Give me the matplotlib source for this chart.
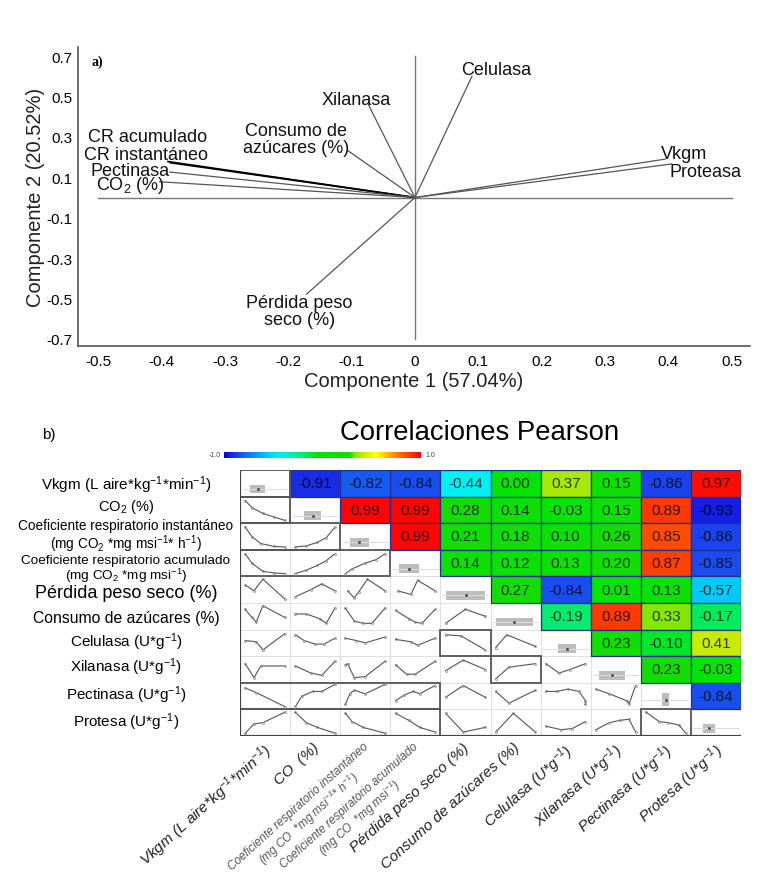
import numpy as np
import matplotlib.pyplot as plt
from matplotlib.colors import LinearSegmentedColormap, Normalize
from matplotlib.patches import Rectangle

plt.rcParams['font.family'] = ['Liberation Sans', 'DejaVu Sans']
plt.rcParams['mathtext.fontset'] = 'custom'
plt.rcParams['mathtext.rm'] = 'Liberation Sans'
plt.rcParams['mathtext.it'] = 'Liberation Sans:italic'
plt.rcParams['mathtext.default'] = 'regular'

# ---- a) PCA loadings ----
pca_names = ['CR acumulado', 'CR instantáneo', 'Pectinasa', 'CO$_2$ (%)',
             'Consumo de\nazúcares (%)', 'Xilanasa', 'Celulasa', 'Vkgm',
             'Proteasa', 'Pérdida peso\nseco (%)']
pc1 = [-0.39, -0.386, -0.387, -0.403, -0.106, -0.074, 0.090, 0.395, 0.405, -0.171]
pc2 = [0.178, 0.172, 0.126, 0.078, 0.232, 0.463, 0.600, 0.190, 0.166, -0.478]
label_x = [-0.422, -0.425, -0.45, -0.45, -0.188, -0.093, 0.128, 0.425, 0.458, -0.182]
label_y = [0.30, 0.215, 0.136, 0.062, 0.29, 0.483, 0.636, 0.22, 0.131, -0.562]

# ---- b) Pearson correlations (upper triangle, row by row) ----
var_rows = ['Vkgm (L aire*kg$^{-1}$*min$^{-1}$)', 'CO$_2$ (%)',
            'Coeficiente respiratorio instantáneo\n(mg CO$_2$ *mg msi$^{-1}$* h$^{-1}$)',
            'Coeficiente respiratorio acumulado\n(mg CO$_2$ *mg msi$^{-1}$)',
            'Pérdida peso seco (%)', 'Consumo de azúcares (%)',
            'Celulasa (U*g$^{-1}$)', 'Xilanasa (U*g$^{-1}$)',
            'Pectinasa (U*g$^{-1}$)', 'Protesa (U*g$^{-1}$)']
row_label_size = [11, 10.5, 9.8, 9.7, 13, 11.3, 11, 11, 11, 11]
row_label_y = [485, 507, 537, 570, 593, 618, 642, 667, 695, 722]
var_cols = ['Vkgm (L aire*kg$^{-1}$*min$^{-1}$)', 'CO  (%)',
            'Coeficiente respiratorio instantáneo\n(mg CO  *mg msi$^{-1}$* h$^{-1}$)',
            'Coeficiente respiratorio acumulado\n(mg CO  *mg msi$^{-1}$)',
            'Pérdida peso seco (%)', 'Consumo de azúcares (%)',
            'Celulasa (U*g$^{-1}$)', 'Xilanasa (U*g$^{-1}$)',
            'Pectinasa (U*g$^{-1}$)', 'Protesa (U*g$^{-1}$)']
upper = [
    [-0.91, -0.82, -0.84, -0.44, 0.00, 0.37, 0.15, -0.86, 0.97],
    [0.99, 0.99, 0.28, 0.14, -0.03, 0.15, 0.89, -0.93],
    [0.99, 0.21, 0.18, 0.10, 0.26, 0.85, -0.86],
    [0.14, 0.12, 0.13, 0.20, 0.87, -0.85],
    [0.27, -0.84, 0.01, 0.13, -0.57],
    [-0.19, 0.89, 0.33, -0.17],
    [0.23, -0.10, 0.41],
    [0.23, -0.03],
    [-0.84],
]

# small scatter-line sketches of the lower triangle (x, y in 0..1), one list per row
lines_row1 = [[(0.05, 0.9), (0.2, 0.6), (0.45, 0.35), (0.7, 0.2), (0.95, 0.05)]]
lines_row2 = [[(0.05, 0.9), (0.2, 0.5), (0.4, 0.2), (0.7, 0.08), (0.95, 0.05)],
              [(0.05, 0.05), (0.3, 0.1), (0.55, 0.25), (0.75, 0.45), (0.95, 0.9)]]
lines_row3 = [[(0.05, 0.9), (0.2, 0.5), (0.45, 0.15), (0.7, 0.08), (0.95, 0.05)],
              [(0.05, 0.05), (0.3, 0.2), (0.55, 0.4), (0.75, 0.6), (0.95, 0.9)],
              [(0.05, 0.05), (0.2, 0.25), (0.5, 0.5), (0.75, 0.65), (0.95, 0.9)]]
lines_row4 = [[(0.05, 0.7), (0.25, 0.45), (0.45, 0.95), (0.95, 0.1)],
              [(0.05, 0.2), (0.4, 0.5), (0.65, 0.75), (0.95, 0.45)],
              [(0.1, 0.45), (0.25, 0.15), (0.35, 0.4), (0.55, 0.95), (0.95, 0.45)],
              [(0.1, 0.45), (0.4, 0.3), (0.55, 0.9), (0.95, 0.45)]]
lines_row5 = [[(0.05, 0.8), (0.2, 0.45), (0.3, 0.25), (0.45, 0.95), (0.95, 0.45)],
              [(0.05, 0.6), (0.3, 0.6), (0.6, 0.4), (0.75, 0.2), (0.95, 0.85)],
              [(0.05, 0.85), (0.25, 0.3), (0.45, 0.2), (0.65, 0.2), (0.95, 0.85)],
              [(0.05, 0.75), (0.35, 0.4), (0.5, 0.25), (0.65, 0.2), (0.95, 0.8)],
              [(0.05, 0.2), (0.5, 0.8), (0.95, 0.5)]]
lines_row6 = [[(0.05, 0.6), (0.3, 0.55), (0.45, 0.2), (0.95, 0.9)],
              [(0.05, 0.85), (0.25, 0.6), (0.5, 0.45), (0.7, 0.45), (0.95, 0.7)],
              [(0.05, 0.7), (0.3, 0.6), (0.5, 0.5), (0.95, 0.75)],
              [(0.05, 0.65), (0.4, 0.55), (0.55, 0.4), (0.95, 0.7)],
              [(0.05, 0.85), (0.4, 0.8), (0.95, 0.2)],
              [(0.05, 0.3), (0.3, 0.85), (0.95, 0.35)]]
lines_row7 = [[(0.05, 0.75), (0.25, 0.15), (0.4, 0.65), (0.95, 0.65)],
              [(0.05, 0.65), (0.4, 0.35), (0.65, 0.25), (0.95, 0.85)],
              [(0.05, 0.7), (0.1, 0.75), (0.25, 0.15), (0.5, 0.2), (0.95, 0.85)],
              [(0.05, 0.7), (0.3, 0.3), (0.5, 0.3), (0.95, 0.85)],
              [(0.05, 0.45), (0.45, 0.9), (0.95, 0.5)],
              [(0.05, 0.1), (0.35, 0.6), (0.95, 0.75)],
              [(0.05, 0.75), (0.35, 0.35), (0.6, 0.5), (0.95, 0.75)]]
lines_row8 = [[(0.05, 0.85), (0.3, 0.65), (0.95, 0.05)],
              [(0.05, 0.05), (0.2, 0.5), (0.45, 0.7), (0.65, 0.7), (0.95, 1.0)],
              [(0.05, 0.15), (0.15, 0.6), (0.25, 0.75), (0.5, 0.6), (0.95, 1.0)],
              [(0.05, 0.3), (0.25, 0.55), (0.45, 0.7), (0.6, 0.6), (0.95, 0.95)],
              [(0.05, 0.45), (0.45, 0.95), (0.95, 0.45)],
              [(0.05, 0.7), (0.35, 0.2), (0.95, 0.75)],
              [(0.05, 0.7), (0.3, 0.7), (0.55, 0.8), (0.8, 0.7), (0.95, 0.3), (0.95, 0.15)],
              [(0.05, 0.8), (0.35, 0.6), (0.75, 0.3), (0.8, 0.15), (0.95, 0.95)]]
lines_row9 = [[(0.05, 0.05), (0.25, 0.45), (0.45, 0.5), (0.95, 0.95)],
              [(0.05, 0.95), (0.3, 0.5), (0.55, 0.3), (0.95, 0.05)],
              [(0.05, 0.9), (0.2, 0.55), (0.45, 0.3), (0.95, 0.05)],
              [(0.05, 0.9), (0.35, 0.6), (0.6, 0.3), (0.95, 0.1)],
              [(0.05, 0.9), (0.45, 0.1), (0.95, 0.3)],
              [(0.05, 0.1), (0.45, 0.9), (0.95, 0.1)],
              [(0.05, 0.35), (0.4, 0.2), (0.65, 0.25), (0.95, 0.55)],
              [(0.05, 0.2), (0.35, 0.5), (0.6, 0.6), (0.8, 0.65), (0.95, 0.1)],
              [(0.05, 0.95), (0.35, 0.55), (0.55, 0.5), (0.8, 0.4), (0.95, 0.05)]]
lower_lines = [[], lines_row1, lines_row2, lines_row3, lines_row4,
               lines_row5, lines_row6, lines_row7, lines_row8, lines_row9]

# diagonal box sketches (fractions of the cell)
box_left = [0.2, 0.28, 0.2, 0.17, 0.12, 0.1, 0.35, 0.16, 0.43, 0.24]
box_right = [0.5, 0.62, 0.57, 0.57, 0.9, 0.85, 0.7, 0.69, 0.57, 0.48]
box_low = [0.12, 0.12, 0.12, 0.12, 0.12, 0.12, 0.12, 0.12, 0.12, 0.12]
box_high = [0.45, 0.45, 0.45, 0.45, 0.45, 0.45, 0.45, 0.45, 0.62, 0.45]

n = len(var_rows)
corr = np.eye(n)
for i, row in enumerate(upper):
    for k, v in enumerate(row):
        corr[i, i + 1 + k] = v
        corr[i + 1 + k, i] = v

jet_like = LinearSegmentedColormap.from_list('corr', [
    (0.0, '#0000e0'), (0.05, '#1e32e6'), (0.10, '#1464f5'), (0.215, '#00c8fa'),
    (0.28, '#00f0f0'), (0.405, '#00eb6e'), (0.475, '#00e600'), (0.64, '#14dc00'),
    (0.665, '#82e600'), (0.705, '#c8eb00'), (0.775, '#ffff00'), (0.90, '#ff6400'),
    (0.975, '#ff1e00'), (1.0, '#ff0000')])
norm = Normalize(-1, 1)

fig = plt.figure(figsize=(7.84, 8.87), dpi=100)

# ================= a) =================
ax = fig.add_axes([78 / 784, 1 - 347 / 887, 672 / 784, 299 / 887])
ax.plot([-0.5, 0.5], [0, 0], color='#777777', lw=1.0)
ax.plot([0, 0], [-0.7, 0.7], color='#777777', lw=1.0)
for k in range(len(pca_names)):
    if k < 2:
        ax.plot([0, pc1[k]], [0, pc2[k]], color='black', lw=1.2)
    else:
        ax.plot([0, pc1[k]], [0, pc2[k]], color='#555555', lw=0.9)
    ax.text(label_x[k], label_y[k], pca_names[k], fontsize=13, ha='center',
            va='center', linespacing=1.0, color='#111111')
ax.text(-0.51, 0.655, 'a)', fontsize=10, family='Liberation Serif', fontweight='bold')
ax.set_xlim(-0.532, 0.529)
ax.set_ylim(-0.735, 0.745)
ax.set_xticks(np.round(np.arange(-0.5, 0.51, 0.1), 1))
ax.set_xticklabels(['-0.5', '-0.4', '-0.3', '-0.2', '-0.1', '0', '0.1', '0.2', '0.3', '0.4', '0.5'])
ax.set_yticks(np.round(np.arange(-0.7, 0.71, 0.2), 1))
ax.set_yticklabels(['-0.7', '-0.5', '-0.3', '-0.1', '0.1', '0.3', '0.5', '0.7'])
ax.tick_params(axis='x', length=0, labelsize=11, pad=6)
ax.tick_params(axis='y', length=0, labelsize=11, pad=4)
for s in ['top', 'right']:
    ax.spines[s].set_visible(False)
for s in ['left', 'bottom']:
    ax.spines[s].set_color('#555555')
    ax.spines[s].set_linewidth(1.2)
ax.set_xlabel('Componente 1 (57.04%)', fontsize=14.5, labelpad=2, color='#222222')
ax.set_ylabel('Componente 2 (20.52%)', fontsize=14.5, labelpad=1, color='#222222')

# ================= b) =================
fig.text(42 / 784, 1 - 435 / 887, 'b)', fontsize=11, va='center')
fig.text(480 / 784, 1 - 433 / 887, 'Correlaciones Pearson', fontsize=19.8,
         ha='center', va='center')

cax = fig.add_axes([224 / 784, 1 - 459 / 887, 197 / 784, 6 / 887])
cax.imshow(np.linspace(-1, 1, 256)[None, :], aspect='auto', cmap=jet_like, norm=norm)
cax.set_axis_off()
fig.text(221 / 784, 1 - 456 / 887, '-1.0', fontsize=5, ha='right', va='center', color='#444444')
fig.text(425 / 784, 1 - 456 / 887, '1.0', fontsize=5, ha='left', va='center', color='#444444')

hx = fig.add_axes([240 / 784, 1 - 737 / 887, 501 / 784, 266 / 887])
hx.set_xlim(0, n)
hx.set_ylim(n, 0)
hx.set_axis_off()

# light grid in lower triangle
for i in range(n):
    for j in range(i + 1):
        hx.add_patch(Rectangle((j, i), 1, 1, facecolor='white', edgecolor='#dddddd', lw=0.6))

# upper triangle coloured cells
for i in range(n):
    for j in range(i + 1, n):
        v = corr[i, j]
        hx.add_patch(Rectangle((j, i), 1, 1, facecolor=jet_like(norm(v)),
                               edgecolor='#1f2f8f', lw=0.9))
        hx.text(j + 0.5, i + 0.5, f'{v:.2f}', ha='center', va='center',
                fontsize=11, color='black', alpha=0.75)

# diagonal boxes
for i in range(n):
    ymid = i + 1 - (box_low[i] + box_high[i]) / 2
    hx.plot([i + 0.05, i + 0.95], [ymid, ymid], color='#dddddd', lw=0.8)
    hx.add_patch(Rectangle((i + box_left[i], i + 1 - box_high[i]),
                           box_right[i] - box_left[i], box_high[i] - box_low[i],
                           facecolor='#bdbdbd', edgecolor='none'))
    hx.plot([i + (box_left[i] + box_right[i]) / 2], [ymid], 'o', ms=1.2, color='#555555')

# lower triangle sketches
for i in range(1, n):
    for j, pts in enumerate(lower_lines[i]):
        xs = [j + 0.06 + 0.88 * p[0] for p in pts]
        ys = [i + 0.94 - 0.88 * p[1] for p in pts]
        hx.plot(xs, ys, color='#555555', lw=0.8)
        hx.plot(xs, ys, 'o', ms=1.5, mfc='none', mec='#888888', mew=0.5)

# dark frames around strong correlations (|r| >= 0.8), grouped per row
for i in range(n):
    j = 0
    while j < i:
        if abs(corr[i, j]) >= 0.8:
            k = j
            while k < i and abs(corr[i, k]) >= 0.8:
                k += 1
            hx.add_patch(Rectangle((j, i), k - j, 1, facecolor='none',
                                   edgecolor='#555555', lw=1.3))
            j = k
        else:
            j += 1
hx.add_patch(Rectangle((0, 0), 1, 1, facecolor='none', edgecolor='#555555', lw=1.3))
hx.plot([0, 0], [0, n], color='#444444', lw=1.6)
hx.plot([0, n], [n, n], color='#444444', lw=1.6)

# row labels
for i, name in enumerate(var_rows):
    fig.text(126 / 784, 1 - row_label_y[i] / 887, name, ha='center',
             va='center', fontsize=row_label_size[i], linespacing=1.0,
             multialignment='center')

# column labels
for j, name in enumerate(var_cols):
    small = name.startswith('Coef')
    hx.text(j + 0.45, n + 0.15, name, rotation=42, rotation_mode='anchor',
            ha='right', va='top', fontsize=8.5 if small else 11, style='italic',
            color='#555555' if small else '#222222', multialignment='center',
            linespacing=1.05, clip_on=False)

plt.savefig('out.png', dpi=100)
